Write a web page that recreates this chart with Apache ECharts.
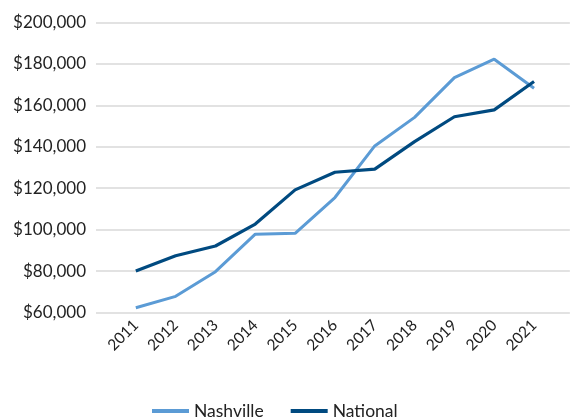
<!DOCTYPE html>
<html>
<head>
<meta charset="utf-8">
<script src="https://cdn.jsdelivr.net/npm/echarts@6/dist/echarts.min.js"></script>
<style>
  html, body { margin: 0; padding: 0; background: #fff; }
  #chart { width: 572px; height: 419px; }
</style>
</head>
<body>
<div id="chart"></div>
<script>
// years on the x axis
const years = [2011, 2012, 2013, 2014, 2015, 2016, 2017, 2018, 2019, 2020, 2021]
// values
const nashville = [62300, 67800, 79700, 97800, 98200, 115500, 140400, 154200, 173400, 182300, 168300]
const national = [80000, 87400, 92100, 102700, 119200, 127700, 129200, 142500, 154500, 157800, 171500]

const toPairs = (vals) => years.map((y, i) => [y, vals[i]])

const myChart = echarts.init(document.getElementById('chart'))
const option = {
  animation: false,
  textStyle: { fontFamily: 'Lato' },
  grid: {
    left: 96,
    right: 0,
    top: 22.5,
    bottom: 106.5
  },
  legend: {
    bottom: -6,
    left: 147,
    itemWidth: 37,
    itemHeight: 4,
    itemGap: 27,
    icon: 'rect',
    textStyle: { color: '#222', fontSize: 17.5, fontFamily: 'Lato' },
    data: ['Nashville', 'National']
  },
  xAxis: {
    type: 'value',
    min: 2010,
    max: 2021.9,
    interval: 1,
    axisLine: { show: false },
    axisTick: { show: false },
    splitLine: { show: false },
    axisLabel: {
      rotate: 45,
      margin: 10,
      color: '#222',
      fontSize: 15.5,
      fontFamily: 'Lato',
      formatter: (v) => (years.indexOf(v) >= 0 ? String(v) : '')
    }
  },
  yAxis: {
    type: 'value',
    min: 60000,
    max: 200000,
    interval: 20000,
    axisLine: { show: false },
    axisTick: { show: false },
    splitLine: { lineStyle: { color: '#d9d9d9', width: 1.5 } },
    axisLabel: {
      margin: 10,
      color: '#222',
      fontSize: 17,
      fontFamily: 'Lato',
      formatter: (v) => '$' + v.toLocaleString('en-US')
    }
  },
  series: [
    {
      name: 'Nashville',
      type: 'line',
      data: toPairs(nashville),
      symbol: 'none',
      itemStyle: { color: '#5b9bd5' },
      lineStyle: { color: '#5b9bd5', width: 3 }
    },
    {
      name: 'National',
      type: 'line',
      data: toPairs(national),
      symbol: 'none',
      itemStyle: { color: '#004a80' },
      lineStyle: { color: '#004a80', width: 3.2 }
    }
  ]
}
myChart.setOption(option)
</script>
</body>
</html>
